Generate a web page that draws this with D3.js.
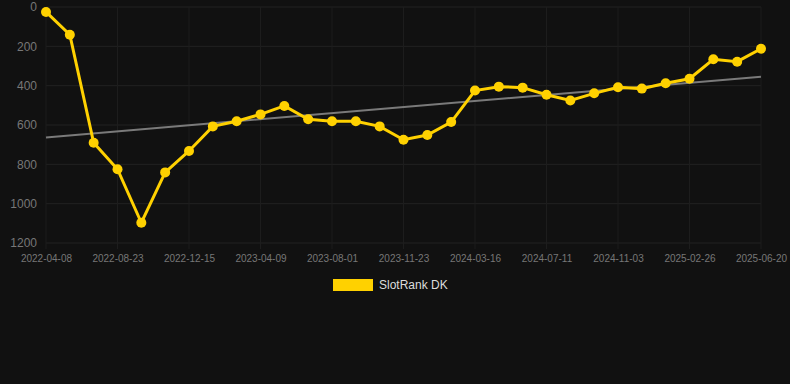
<!DOCTYPE html>
<html>
<head>
<meta charset="utf-8">
<script src="https://cdn.jsdelivr.net/npm/d3@7"></script>
<style>
  body { margin: 0; background: #111111; }
  svg { display: block; }
</style>
</head>
<body>
<div id="chart"></div>
<script>
// Rank values (y axis is reversed: 0 on top)
const rankDK = [25, 141, 690, 825, 1097, 841, 732, 607, 581, 546, 503, 571, 581, 581, 607,
  675, 651, 585, 425, 405, 410, 446, 475, 439, 408, 415, 388, 365, 266, 278, 212];

// Labels shown every third point
const tickLabels = ["2022-04-08", "2022-08-23", "2022-12-15", "2023-04-09", "2023-08-01",
  "2023-11-23", "2024-03-16", "2024-07-11", "2024-11-03", "2025-02-26", "2025-06-20"];
const tickIdx = tickLabels.map((d, i) => i * 3);

const yTicks = [0, 200, 400, 600, 800, 1000, 1200];
const seriesName = "SlotRank DK";

const W = 790, H = 384;
const margin = { top: 7, right: 29, bottom: 141, left: 46 },
  width = W - margin.left - margin.right,
  height = H - margin.top - margin.bottom;

const svg = d3.select("#chart")
  .append("svg")
  .attr("width", W)
  .attr("height", H)
  .style("background", "#111111");

const g = svg.append("g")
  .attr("transform", `translate(${margin.left}, ${margin.top})`);

const idx = d3.range(rankDK.length);

const x = d3.scalePoint()
  .domain(idx)
  .range([0, width]);

const y = d3.scaleLinear()
  .domain([0, 1200])
  .range([0, height]);

// grid
g.append("g")
  .selectAll("line")
  .data(yTicks)
  .join("line")
  .attr("x1", 0)
  .attr("x2", width)
  .attr("y1", d => y(d))
  .attr("y2", d => y(d))
  .attr("stroke", "#222222")
  .attr("stroke-width", 1);

g.append("g")
  .selectAll("line")
  .data(tickIdx)
  .join("line")
  .attr("x1", d => x(d))
  .attr("x2", d => x(d))
  .attr("y1", 0)
  .attr("y2", height + 6)
  .attr("stroke", "#1d1d1d")
  .attr("stroke-width", 1);

// Y axis labels
const yAxis = g.append("g")
  .call(d3.axisLeft(y).tickValues(yTicks).tickFormat(d3.format("d")).tickSize(0).tickPadding(9));
yAxis.select(".domain").remove();
yAxis.selectAll("text")
  .attr("fill", "#777777")
  .attr("font-family", "Liberation Sans, Arial, sans-serif")
  .attr("font-size", "12px");

// X axis labels
const xAxis = g.append("g")
  .attr("transform", `translate(0, ${height})`)
  .call(d3.axisBottom(x)
    .tickValues(tickIdx)
    .tickFormat((d, i) => tickLabels[i])
    .tickSize(0)
    .tickPadding(12));
xAxis.select(".domain").remove();
xAxis.selectAll("text")
  .attr("fill", "#777777")
  .attr("font-family", "Liberation Sans, Arial, sans-serif")
  .attr("font-size", "10px");

// Trend line (least squares over the series)
const mx = d3.mean(idx), my = d3.mean(rankDK);
const slope = d3.sum(idx, i => (i - mx) * (rankDK[i] - my)) / d3.sum(idx, i => (i - mx) * (i - mx));
const trend = [0, idx.length - 1].map(i => [i, my + slope * (i - mx)]);

g.append("line")
  .attr("x1", x(trend[0][0]))
  .attr("y1", y(trend[0][1]))
  .attr("x2", x(trend[1][0]))
  .attr("y2", y(trend[1][1]))
  .attr("stroke", "#7a7a7a")
  .attr("stroke-width", 2);

// Series line
const line = d3.line()
  .x((d, i) => x(i))
  .y(d => y(d));

g.append("path")
  .datum(rankDK)
  .attr("d", line)
  .attr("fill", "none")
  .attr("stroke", "#FFD100")
  .attr("stroke-width", 3);

g.selectAll("circle.pt")
  .data(rankDK)
  .join("circle")
  .attr("class", "pt")
  .attr("cx", (d, i) => x(i))
  .attr("cy", d => y(d))
  .attr("r", 5)
  .attr("fill", "#FFD100");

// Legend
svg.append("rect")
  .attr("x", 333)
  .attr("y", 279)
  .attr("width", 40)
  .attr("height", 12)
  .attr("fill", "#FFD100");

svg.append("text")
  .attr("x", 379)
  .attr("y", 289)
  .text(seriesName)
  .attr("fill", "#dddddd")
  .attr("font-family", "Liberation Sans, Arial, sans-serif")
  .attr("font-size", "12px");
</script>
</body>
</html>
